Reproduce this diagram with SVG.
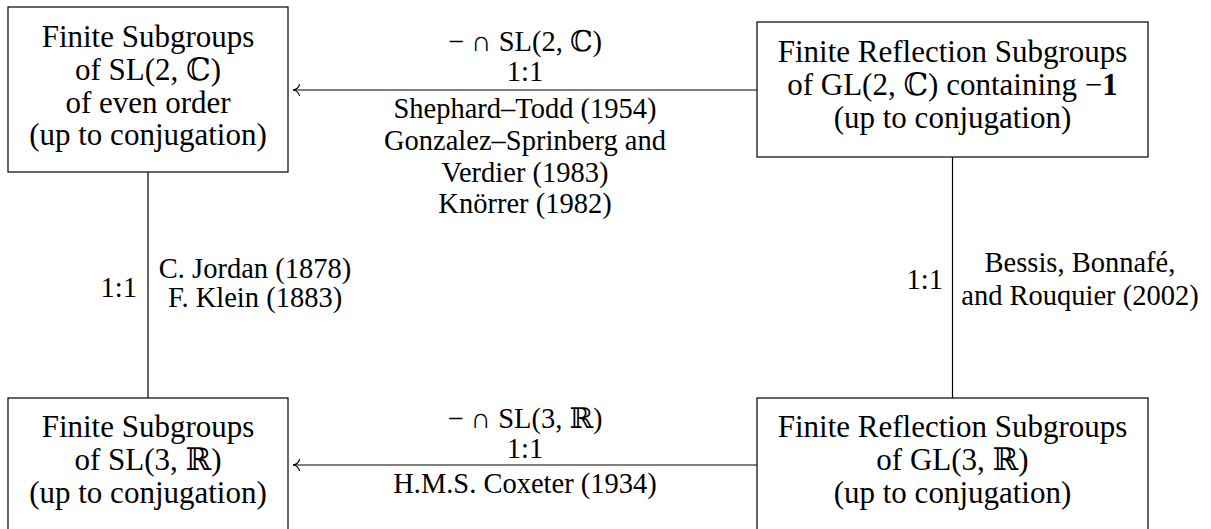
<svg xmlns="http://www.w3.org/2000/svg" width="1211" height="529" viewBox="0 0 1211 529">
  <style>
    .box { fill: #ffffff; stroke: #000000; stroke-width: 1.2; }
    .t { font-family: "Liberation Serif", "DejaVu Serif", serif; font-size: 31px; fill: #000000; text-anchor: middle; }
    .l { font-family: "Liberation Serif", "DejaVu Serif", serif; font-size: 28.5px; fill: #000000; text-anchor: middle; }
    .e { text-anchor: end; }
    .conn { stroke: #000000; stroke-width: 1.2; fill: none; }
  </style>
  <defs>
    <marker id="to" markerUnits="userSpaceOnUse" markerWidth="14" markerHeight="14" viewBox="-8 -7 10 14" refX="0" refY="0" orient="auto">
      <path d="M-6.5,-5.5 C-5.5,-2 -2.5,-0.4 0,0 C-2.5,0.4 -5.5,2 -6.5,5.5" fill="none" stroke="#000000" stroke-width="1.1" stroke-linecap="round"/>
    </marker>
  </defs>

  <g id="connectors">
    <line class="conn" x1="148" y1="172" x2="148" y2="398"/>
    <line class="conn" x1="952.5" y1="157" x2="952.5" y2="398"/>
    <line class="conn" x1="757" y1="90" x2="293" y2="90" marker-end="url(#to)"/>
    <line class="conn" x1="757" y1="465" x2="293" y2="465" marker-end="url(#to)"/>
    <g id="label-top">
      <text class="l" x="525" y="51">−<tspan dx="7">∩</tspan> SL(2, ℂ)</text>
      <text class="l" x="525" y="81">1:1</text>
      <text class="l" x="525" y="118">Shephard–Todd (1954)</text>
      <text class="l" x="525" y="150">Gonzalez–Sprinberg and</text>
      <text class="l" x="525" y="182">Verdier (1983)</text>
      <text class="l" x="525" y="213">Knörrer (1982)</text>
    </g>
    <g id="label-bottom">
      <text class="l" x="525" y="428">−<tspan dx="7">∩</tspan> SL(3, ℝ)</text>
      <text class="l" x="525" y="458">1:1</text>
      <text class="l" x="525" y="493">H.M.S. Coxeter (1934)</text>
    </g>
    <g id="label-left">
      <text class="l e" x="137" y="297">1:1</text>
      <text class="l" x="255" y="278">C. Jordan (1878)</text>
      <text class="l" x="255" y="307">F. Klein (1883)</text>
    </g>
    <g id="label-right">
      <text class="l e" x="943" y="289">1:1</text>
      <text class="l" x="1080" y="272">Bessis, Bonnafé,</text>
      <text class="l" x="1080" y="305">and Rouquier (2002)</text>
    </g>
  </g>

  <g id="node-sl2c">
    <rect class="box" x="8" y="7" width="280" height="165"/>
    <text class="t" x="148" y="47">Finite Subgroups</text>
    <text class="t" x="148" y="80">of SL(2, ℂ)</text>
    <text class="t" x="148" y="112.5">of even order</text>
    <text class="t" x="148" y="145">(up to conjugation)</text>
  </g>

  <g id="node-gl2c">
    <rect class="box" x="757" y="22" width="391" height="135"/>
    <text class="t" x="952.5" y="62">Finite Reflection Subgroups</text>
    <text class="t" x="952.5" y="95">of GL(2, ℂ) containing −<tspan font-weight="bold">1</tspan></text>
    <text class="t" x="952.5" y="128">(up to conjugation)</text>
  </g>

  <g id="node-sl3r">
    <rect class="box" x="8" y="398" width="280" height="150"/>
    <text class="t" x="148" y="437">Finite Subgroups</text>
    <text class="t" x="148" y="470">of SL(3, ℝ)</text>
    <text class="t" x="148" y="503">(up to conjugation)</text>
  </g>

  <g id="node-gl3r">
    <rect class="box" x="757" y="398" width="391" height="150"/>
    <text class="t" x="952.5" y="437">Finite Reflection Subgroups</text>
    <text class="t" x="952.5" y="470">of GL(3, ℝ)</text>
    <text class="t" x="952.5" y="503">(up to conjugation)</text>
  </g>
</svg>
